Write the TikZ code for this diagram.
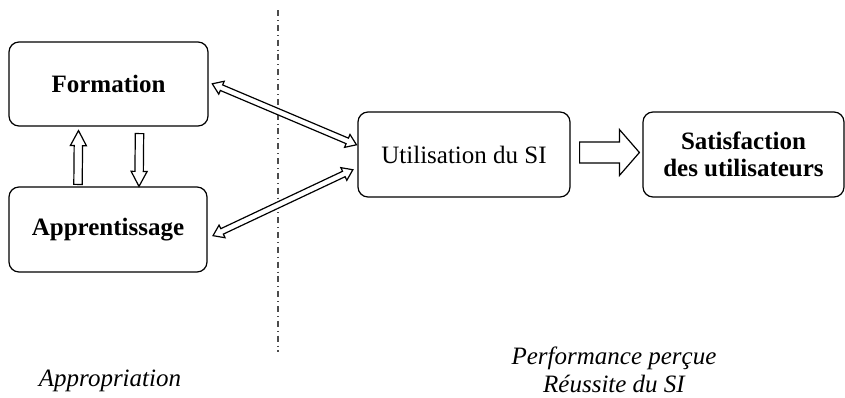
\documentclass[tikz,border=0pt]{standalone}
\usepackage{fontspec}
\setmainfont{Liberation Serif}
\usetikzlibrary{calc}

% hollow block arrows: start, end, half shaft, half head, head length
\newcommand{\singlebloc}[5]{%
  \coordinate (hb) at ($(#2)!#5!(#1)$);
  \draw[bloc] ($(#1)!#3!90:(#2)$) -- ($(hb)!#3!-90:(#1)$) -- ($(hb)!#4!-90:(#1)$) -- (#2)
    -- ($(hb)!#4!90:(#1)$) -- ($(hb)!#3!90:(#1)$) -- ($(#1)!#3!-90:(#2)$) -- cycle;}
\newcommand{\doublebloc}[5]{%
  \coordinate (ha) at ($(#1)!#5!(#2)$);
  \coordinate (hb) at ($(#2)!#5!(#1)$);
  \draw[bloc] (#1) -- ($(ha)!#4!90:(#2)$) -- ($(ha)!#3!90:(#2)$) -- ($(hb)!#3!-90:(#1)$)
    -- ($(hb)!#4!-90:(#1)$) -- (#2) -- ($(hb)!#4!90:(#1)$) -- ($(hb)!#3!90:(#1)$)
    -- ($(ha)!#3!-90:(#2)$) -- ($(ha)!#4!-90:(#2)$) -- cycle;}

\begin{document}
\begin{tikzpicture}[x=0.5pt,y=-0.5pt,font=\fontsize{12.5}{14}\selectfont,
 main node/.style={draw,rounded corners=5pt,line width=0.6pt,align=center,inner sep=0pt},
 bold node/.style={main node,font=\fontsize{12.5}{13.5}\selectfont\bfseries},
 bloc/.style={draw,line width=0.6pt,fill=white},
 label node/.style={font=\fontsize{12.5}{14}\selectfont\itshape,align=center}]
\useasboundingbox (0,0) rectangle (845,397);

\node[bold node,minimum width=99.5pt,minimum height=42pt] (formation) at (108.5,84) {Formation};
\node[bold node,minimum width=99pt,minimum height=42.5pt] (apprentissage) at (108,229.5) {Apprentissage};
\node[main node,minimum width=106pt,minimum height=42.5pt] (utilisation) at (464,154.5) {Utilisation du SI};
\node[bold node,minimum width=100.5pt,minimum height=42.5pt] (satisfaction) at (743.5,154.5) {Satisfaction\\des utilisateurs};

\coordinate (haut) at (278,10);
\coordinate (bas) at (278,352);
\draw[dash dot,line width=0.6pt,black!70] (haut) -- (bas);

\node[label node] (appropriation) at (110,381) {Appropriation};
\node[label node] (performance) at (614,370) {Performance perçue\\Réussite du SI};

% connector ends
\coordinate (f1) at ($(formation.1)!2pt!(utilisation.175)$);
\coordinate (u1) at ($(utilisation.175)!0.5pt!(formation.1)$);
\coordinate (a1) at ($(apprentissage.-5)!3pt!(utilisation.187)$);
\coordinate (u2) at ($(utilisation.187)!2.5pt!(apprentissage.-5)$);
\coordinate (a2) at ([xshift=-15pt,yshift=1pt]apprentissage.north);
\coordinate (f2) at ([xshift=-15pt,yshift=-2pt]formation.south);
\coordinate (f3) at ([xshift=15.5pt,yshift=-3.5pt]formation.south);
\coordinate (a3) at ([xshift=15.5pt]apprentissage.north);
\coordinate (u3) at ([xshift=4.5pt,yshift=1pt]utilisation.east);
\coordinate (s1) at ([xshift=-1.5pt,yshift=1pt]satisfaction.west);

\doublebloc{f1}{u1}{1.5pt}{3.5pt}{5pt}
\doublebloc{a1}{u2}{1.5pt}{3.5pt}{5pt}
\singlebloc{a2}{f2}{2.1pt}{4pt}{7.5pt}
\singlebloc{f3}{a3}{2.1pt}{4pt}{7.5pt}
\singlebloc{u3}{s1}{5.25pt}{11.5pt}{10pt}

\end{tikzpicture}
\end{document}
